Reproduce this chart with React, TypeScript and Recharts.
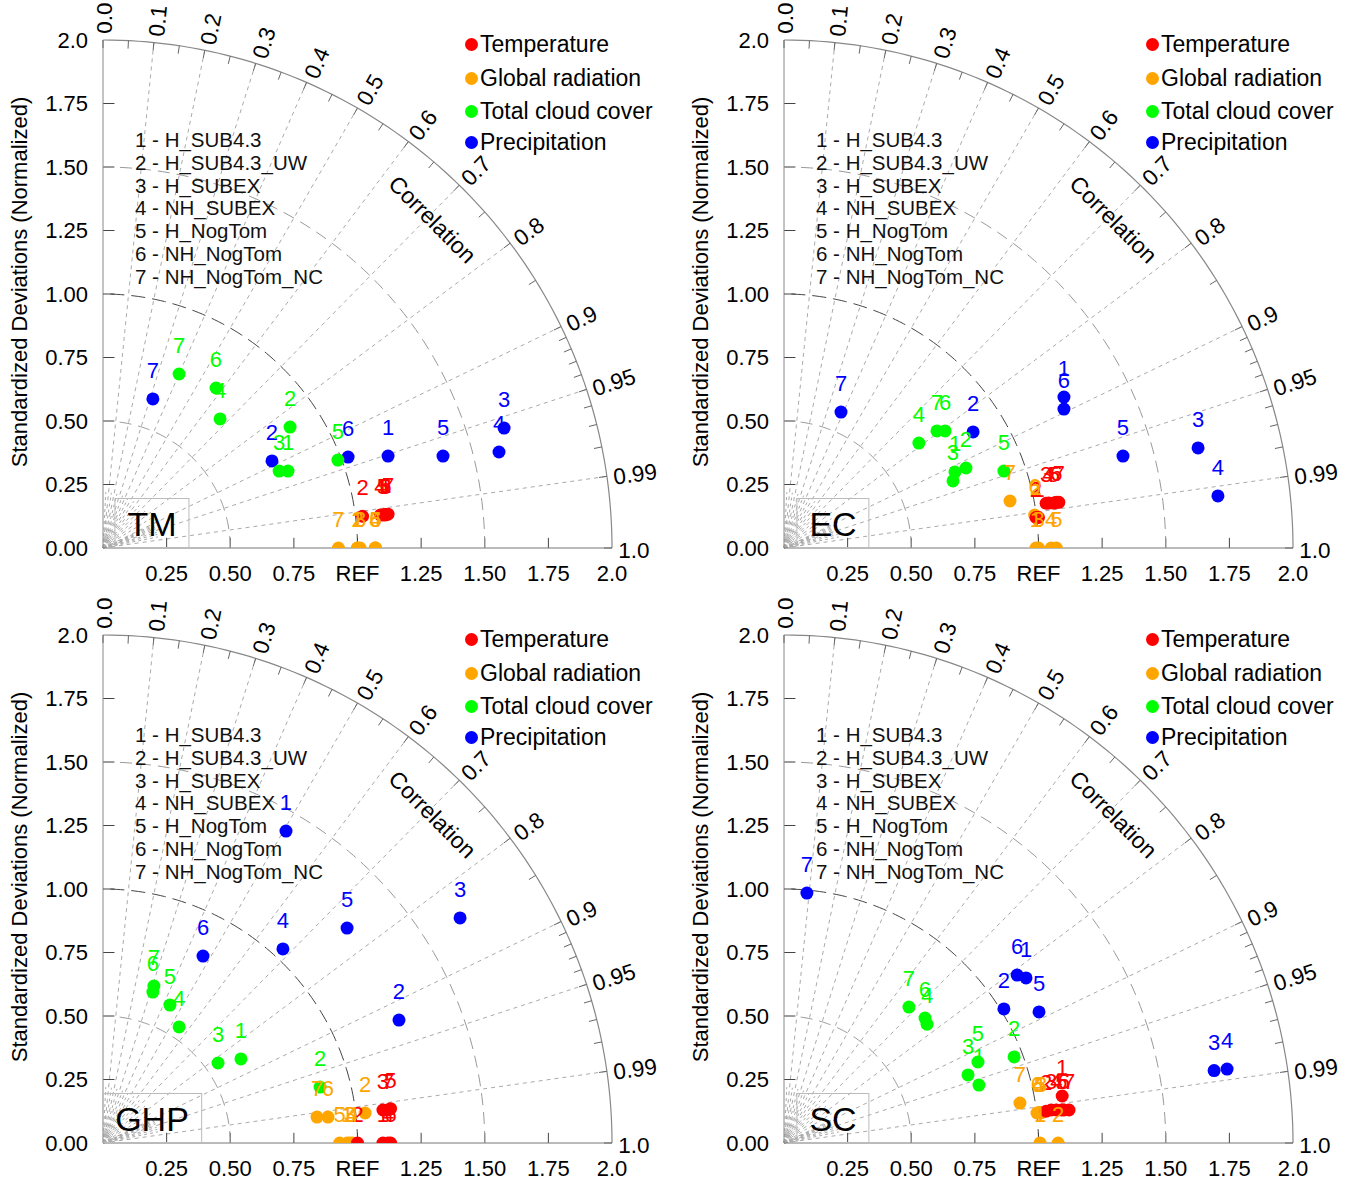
import { ScatterChart, Scatter, XAxis, YAxis, ReferenceLine, ReferenceDot } from 'recharts';

const FONT = "'Liberation Sans', Arial, Helvetica, sans-serif";

const MODELS = ['H_SUB4.3', 'H_SUB4.3_UW', 'H_SUBEX', 'NH_SUBEX', 'H_NogTom', 'NH_NogTom', 'NH_NogTom_NC'];
const VARIABLES = ['Temperature', 'Global radiation', 'Total cloud cover', 'Precipitation'];
const COLORS = ['#ff0000', '#ffa500', '#00ff00', '#0000ff'];

// [std*corr, std*sin(acos corr)] for cases 1..7, normalized standard deviation
const tmTemperature = [[1.11, 0.132], [1.02, 0.125], [1.11, 0.13], [1.09, 0.13], [1.1, 0.13], [1.11, 0.132], [1.12, 0.133]];
const tmRadiation = [[1.0, 0], [1.0, 0], [1.01, 0], [1.07, 0], [1.07, 0], [1.07, 0], [0.925, 0]];
const tmCloud = [[0.727, 0.303], [0.735, 0.476], [0.692, 0.303], [0.46, 0.508], [0.923, 0.346], [0.444, 0.63], [0.299, 0.685]];
const tmPrecip = [[1.12, 0.362], [0.664, 0.343], [1.576, 0.472], [1.556, 0.378], [1.336, 0.362], [0.963, 0.358], [0.196, 0.587]];

const ecTemperature = [[1.0, 0.12], [0.99, 0.12], [1.03, 0.176], [1.04, 0.177], [1.06, 0.177], [1.07, 0.18], [1.08, 0.18]];
const ecRadiation = [[0.99, 0], [0.99, 0.125], [1.0, 0], [1.05, 0], [1.07, 0], [0.985, 0.13], [0.888, 0.185]];
const ecCloud = [[0.672, 0.299], [0.715, 0.315], [0.664, 0.264], [0.53, 0.413], [0.864, 0.303], [0.633, 0.461], [0.601, 0.461]];
const ecPrecip = [[1.1, 0.594], [0.743, 0.457], [1.627, 0.394], [1.705, 0.205], [1.332, 0.362], [1.1, 0.547], [0.224, 0.535]];

const ghpTemperature = [[1.1, 0], [1.0, 0], [1.1, 0.13], [1.12, 0], [1.13, 0.135], [1.13, 0], [1.12, 0.13]];
const ghpRadiation = [[0.96, 0], [1.03, 0.118], [0.97, 0], [0.98, 0], [0.93, 0], [0.884, 0.102], [0.841, 0.102]];
const ghpCloud = [[0.542, 0.331], [0.853, 0.22], [0.452, 0.315], [0.299, 0.457], [0.263, 0.543], [0.196, 0.594], [0.2, 0.618]];
const ghpPrecip = [[0.719, 1.228], [1.163, 0.484], [1.403, 0.886], [0.707, 0.764], [0.959, 0.846], [0.393, 0.736], null];

const scTemperature = [[1.093, 0.185], [1.03, 0.125], [1.05, 0.13], [1.07, 0.13], [1.09, 0.13], [1.1, 0.13], [1.12, 0.13]];
const scRadiation = [[1.006, 0], [1.077, 0], [1.01, 0.118], [1.0, 0.118], [1.005, 0.12], [0.994, 0.118], [0.927, 0.157]];
const scCloud = [[0.766, 0.228], [0.904, 0.339], [0.723, 0.268], [0.562, 0.468], [0.762, 0.319], [0.554, 0.492], [0.491, 0.535]];
const scPrecip = [[0.951, 0.65], [0.864, 0.528], [1.69, 0.285], [1.741, 0.291], [1.002, 0.516], [0.916, 0.661], [0.09, 0.984]];

const X_TICKS = [0.25, 0.5, 0.75, 1, 1.25, 1.5, 1.75, 2];
const Y_TICKS = [0, 0.25, 0.5, 0.75, 1, 1.25, 1.5, 1.75, 2];
const CORR_LABELS = [0, 0.1, 0.2, 0.3, 0.4, 0.5, 0.6, 0.7, 0.8, 0.9, 0.95, 0.99, 1];
const CORR_LINES = [0.1, 0.2, 0.3, 0.4, 0.5, 0.6, 0.7, 0.8, 0.9, 0.95, 0.99];
const CORR_MINOR = [0.05, 0.15, 0.25, 0.35, 0.45, 0.55, 0.65, 0.75, 0.85, 0.91, 0.92, 0.93, 0.94, 0.96, 0.97, 0.98];
const ARC_TICKS = [...CORR_LABELS, ...CORR_MINOR];

const W = 668;
const H = 586;

const arcPoints = (r: number) =>
  Array.from({ length: 91 }, (_, i) => ({ x: r * Math.cos((i * Math.PI) / 180), y: r * Math.sin((i * Math.PI) / 180) }));

const fmtX = (v: number) => (v === 1 ? 'REF' : v === 2 ? '2.0' : v.toFixed(2));
const fmtY = (v: number) => (v === 2 ? '2.0' : v.toFixed(2));
const fmtCorr = (c: number) => (c === 0 ? '0.0' : c === 1 ? '1.0' : String(c));

function toPoints(list: (number[] | null)[]) {
  return list
    .map((p, i) => (p ? { x: p[0], y: p[1], n: i + 1 } : null))
    .filter(Boolean) as { x: number; y: number; n: number }[];
}

function TaylorPanel({ name, series, left, top }: { name: string; series: (number[] | null)[][]; left: number; top: number }) {
  const pts = series.map(toPoints);
  return (
    <div style={{ position: 'absolute', left, top, width: W, height: H, fontFamily: FONT, color: '#000' }}>
      <ScatterChart width={W} height={H} margin={{ top: 40, right: 56, bottom: 8, left: 43 }}>
        <XAxis type="number" dataKey="x" domain={[0, 2]} ticks={X_TICKS} tickFormatter={fmtX} allowDataOverflow
          tickLine={false} axisLine={{ stroke: '#777' }} tick={{ fontSize: 22, fill: '#000' }} tickMargin={11} height={30} interval={0} />
        <YAxis type="number" dataKey="y" domain={[0, 2]} ticks={Y_TICKS} tickFormatter={fmtY} allowDataOverflow
          tickLine={false} axisLine={{ stroke: '#888' }} tick={{ fontSize: 22, fill: '#000' }} tickMargin={9} width={60} interval={0} />
        <XAxis xAxisId="d" type="number" dataKey="x" domain={[0, 2]} hide />
        <YAxis yAxisId="d" type="number" dataKey="y" domain={[0, 2]} hide />

        {/* standard deviation arcs */}
        <Scatter xAxisId="d" yAxisId="d" data={arcPoints(0.5)} isAnimationActive={false} legendType="none"
          line={{ stroke: '#999', strokeDasharray: '12 7', strokeWidth: 1 }} shape={() => <g />} />
        <Scatter xAxisId="d" yAxisId="d" data={arcPoints(1.5)} isAnimationActive={false} legendType="none"
          line={{ stroke: '#999', strokeDasharray: '12 7', strokeWidth: 1 }} shape={() => <g />} />
        <Scatter xAxisId="d" yAxisId="d" data={arcPoints(1)} isAnimationActive={false} legendType="none"
          line={{ stroke: '#444', strokeDasharray: '14 7', strokeWidth: 1 }} shape={() => <g />} />
        <Scatter xAxisId="d" yAxisId="d" data={arcPoints(2)} isAnimationActive={false} legendType="none"
          line={{ stroke: '#888', strokeWidth: 1.2 }} shape={() => <g />} />

        {/* correlation rays */}
        {CORR_LINES.map((c) => (
          <ReferenceLine key={'r' + c} ifOverflow="visible" stroke="#aaa" strokeDasharray="4 4"
            segment={[{ x: 0, y: 0 }, { x: 2 * c, y: 2 * Math.sqrt(1 - c * c) }]} />
        ))}
        {CORR_MINOR.map((c) => (
          <ReferenceLine key={'m' + c} ifOverflow="visible" stroke="#aaa" strokeDasharray="3 3"
            segment={[{ x: 0, y: 0 }, { x: 0.22 * c, y: 0.22 * Math.sqrt(1 - c * c) }]} />
        ))}

        {/* axis ticks */}
        {X_TICKS.slice(0, -1).map((v) => (
          <ReferenceLine key={'xt' + v} ifOverflow="visible" stroke="#444" segment={[{ x: v, y: 0 }, { x: v, y: 0.04 }]} />
        ))}
        {Y_TICKS.slice(1, -1).map((v) => (
          <ReferenceLine key={'yt' + v} ifOverflow="visible" stroke="#444" segment={[{ x: 0, y: v }, { x: 0.045, y: v }]} />
        ))}

        {/* ticks on the correlation arc */}
        {ARC_TICKS.map((c) => {
          const a = Math.acos(c);
          return (
            <ReferenceDot key={'at' + c} x={2 * Math.cos(a)} y={2 * Math.sin(a)} r={0} ifOverflow="visible"
              shape={(p: any) => (
                <line x1={p.cx} y1={p.cy} x2={p.cx - 8 * Math.cos(a)} y2={p.cy + 8 * Math.sin(a)} stroke="#666" />
              )} />
          );
        })}
        {CORR_LABELS.map((c) => {
          const a = Math.acos(c);
          const r = 2.025;
          return (
            <ReferenceDot key={'cl' + c} x={r * Math.cos(a)} y={r * Math.sin(a)} r={0} ifOverflow="visible"
              shape={(p: any) => (
                <text x={p.cx} y={p.cy} dy={2} fontSize={22.5} fill="#000" dominantBaseline="central"
                  transform={`rotate(${(-a * 180) / Math.PI} ${p.cx} ${p.cy})`}>{fmtCorr(c)}</text>
              )} />
          );
        })}
        <ReferenceDot x={1.83 * Math.cos(Math.PI / 4)} y={1.83 * Math.sin(Math.PI / 4)} r={0} ifOverflow="visible"
          shape={(p: any) => (
            <text x={p.cx} y={p.cy} fontSize={23} fill="#000" textAnchor="middle" dominantBaseline="central"
              transform={`rotate(45 ${p.cx} ${p.cy})`}>Correlation</text>
          )} />

        {/* markers: precipitation, cloud, radiation, temperature */}
        {[3, 2, 1, 0].map((k) => (
          <Scatter key={'s' + k} name={VARIABLES[k]} data={pts[k]} isAnimationActive={false}
            shape={(p: any) => <circle cx={p.cx} cy={p.cy} r={6.5} fill={COLORS[k]} />} />
        ))}
        {/* case numbers above markers */}
        {[3, 2, 0, 1].map((k) => (
          <Scatter key={'l' + k} data={pts[k]} isAnimationActive={false} legendType="none"
            shape={(p: any) => (
              <text x={p.cx} y={p.cy - 21} textAnchor="middle" fontSize={22} fill={COLORS[k]}>{p.payload.n}</text>
            )} />
        ))}
      </ScatterChart>

      <div style={{ position: 'absolute', left: 20, top: 282, transform: 'translate(-50%, -50%) rotate(-90deg)', whiteSpace: 'nowrap', fontSize: 22 }}>
        Standardized Deviations (Normalized)
      </div>

      {VARIABLES.map((v, i) => (
        <div key={v} style={{ position: 'absolute', left: 465, top: [44, 78, 111, 142][i] - 13, height: 26, lineHeight: '26px', fontSize: 23, whiteSpace: 'nowrap', display: 'flex', alignItems: 'center' }}>
          <span style={{ display: 'inline-block', width: 13, height: 13, borderRadius: '50%', background: COLORS[i], marginRight: 2 }} />
          {v}
        </div>
      ))}

      {MODELS.map((m, i) => (
        <div key={m} style={{ position: 'absolute', left: 135, top: 140 + i * 22.8 - 12, height: 24, lineHeight: '24px', fontSize: 20.5, whiteSpace: 'nowrap', color: '#111' }}>
          {i + 1} - {m}
        </div>
      ))}

      <div style={{ position: 'absolute', left: 152, top: 498, height: 50, transform: 'translateX(-50%)', boxSizing: 'border-box', border: '1px solid #bbb', padding: '0 12px', fontSize: 34, lineHeight: '50px', whiteSpace: 'nowrap' }}>
        {name}
      </div>
    </div>
  );
}

export default function App() {
  return (
    <div style={{ position: 'absolute', left: 0, top: 0, width: 1349, height: 1181, overflow: 'hidden', background: '#fff' }}>
      <TaylorPanel name="TM" left={0} top={0} series={[tmTemperature, tmRadiation, tmCloud, tmPrecip]} />
      <TaylorPanel name="EC" left={681} top={0} series={[ecTemperature, ecRadiation, ecCloud, ecPrecip]} />
      <TaylorPanel name="GHP" left={0} top={595} series={[ghpTemperature, ghpRadiation, ghpCloud, ghpPrecip]} />
      <TaylorPanel name="SC" left={681} top={595} series={[scTemperature, scRadiation, scCloud, scPrecip]} />
    </div>
  );
}
